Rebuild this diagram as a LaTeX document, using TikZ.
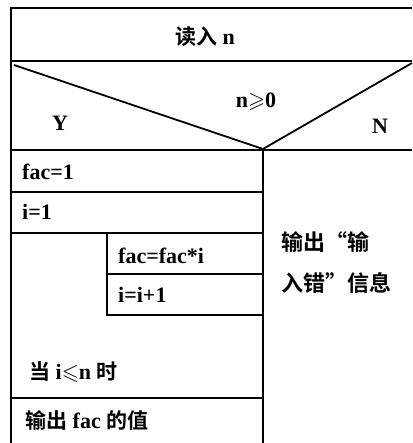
\documentclass[tikz,border=0pt]{standalone}
\usepackage{amssymb}
\usepackage{fontspec}
\setmainfont{Liberation Serif}
\newfontfamily\cjk{Noto Sans CJK SC}[BoldFont=* Bold]
\newcommand\cj[1]{{\cjk\bfseries\fontsize{21}{25}\selectfont #1}}
\begin{document}
\begin{tikzpicture}[x=1pt,y=-1pt,
  frame/.style={line width=1.8pt,black},
  lbl/.style={inner sep=0pt,font=\fontsize{22}{26}\selectfont\bfseries},
  lblL/.style={lbl,anchor=west},
  cjkL/.style={lblL,font=\fontsize{22}{26}\selectfont\bfseries}]
\useasboundingbox (0,0) rectangle (412,443);
% outer frame
\draw[frame] (412,8) -- (11,8) -- (11,443);
\draw[frame] (11,61) -- (412,61);
% decision triangle
\draw[frame] (14,65) -- (263,149) -- (412,63);
\draw[frame] (11,150) -- (412,150);
\draw[frame] (263,150) -- (263,443);
% sequence lines
\draw[frame] (11,192) -- (263,192);
\draw[frame] (11,233) -- (263,233);
% loop body
\draw[frame] (107,233) -- (107,315) -- (263,315);
\draw[frame] (107,274) -- (263,274);
\draw[frame] (11,398) -- (263,398);
% texts
\node[lbl] (read) at (205,37) {\cj{读入} n};
\node[lbl] (cond) at (256,102) {n$\geqslant$0};
\node[lbl] (yes) at (60,123) {Y};
\node[lbl] (no) at (380,126) {N};
\node[lblL] (fac1) at (22,172) {fac=1};
\node[lblL] (i1) at (22,212) {i=1};
\node[lblL] (facmul) at (118,256) {fac=fac*i};
\node[lblL] (inc) at (118,295) {i=i+1};
\node[lblL] (while) at (29,372) {\cj{当} i$\leqslant$n \cj{时}};
\node[lblL] (out) at (25,420) {\cj{输出} fac \cj{的值}};
\node[cjkL] (err1) at (281,242) {\cjk\bfseries 输出“输};
\node[cjkL] (err2) at (281,283) {\cjk\bfseries 入错”信息};
\end{tikzpicture}
\end{document}
